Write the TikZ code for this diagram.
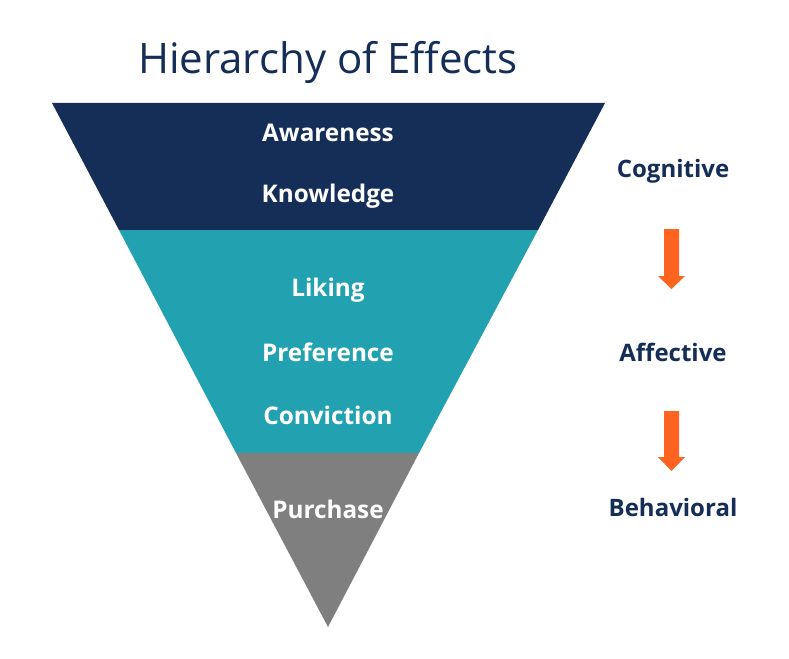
\documentclass[tikz,border=0pt]{standalone}
\usepackage{fontspec}
\setmainfont{Open Sans}
\definecolor{navy}{HTML}{142E57}
\definecolor{teal}{HTML}{22A1B0}
\definecolor{greyband}{HTML}{7F7F7F}
\definecolor{orng}{HTML}{FF6320}
\begin{document}
\begin{tikzpicture}[x=1pt,y=-1pt,
  lbl/.style={text=white,font=\bfseries\fontsize{24.3}{28}\selectfont,inner sep=0pt},
  side/.style={text=navy,font=\bfseries\fontsize{24}{28}\selectfont,inner sep=0pt},
  arr/.style={fill=orng,draw=none}]
\useasboundingbox (0,0) rectangle (789,658);
\fill[white] (0,0) rectangle (789,658);
% bands
\fill[navy] (52,103) -- (605,103) -- (538,230) -- (119,230) -- cycle;
\fill[teal] (119,230) -- (538,230) -- (419,453) -- (236,453) -- cycle;
\fill[greyband] (236,453) -- (419,453) -- (328,627) -- cycle;
% title
\node[text=navy,font=\fontsize{42}{48}\selectfont,inner sep=0pt] (title) at (328,62) {Hierarchy of Effects};
% labels
\node[lbl] (aw) at (328,133) {Awareness};
\node[lbl] (kn) at (328,196) {Knowledge};
\node[lbl] (li) at (328,290) {Liking};
\node[lbl] (pr) at (328,352) {Preference};
\node[lbl] (co) at (328,415) {Conviction};
\node[lbl] (pu) at (328,509) {Purchase};
% side labels
\node[side] (cog) at (673,171) {Cognitive};
\node[side] (aff) at (673,352) {Affective};
\node[side] (beh) at (673,507) {Behavioral};
% arrows
\fill[arr] (664,229) -- (679,229) -- (679,276) -- (685,276) -- (671.5,289) -- (658,276) -- (664,276) -- cycle;
\fill[arr] (664,411) -- (679,411) -- (679,457) -- (685,457) -- (671.5,471) -- (658,457) -- (664,457) -- cycle;
\end{tikzpicture}
\end{document}
